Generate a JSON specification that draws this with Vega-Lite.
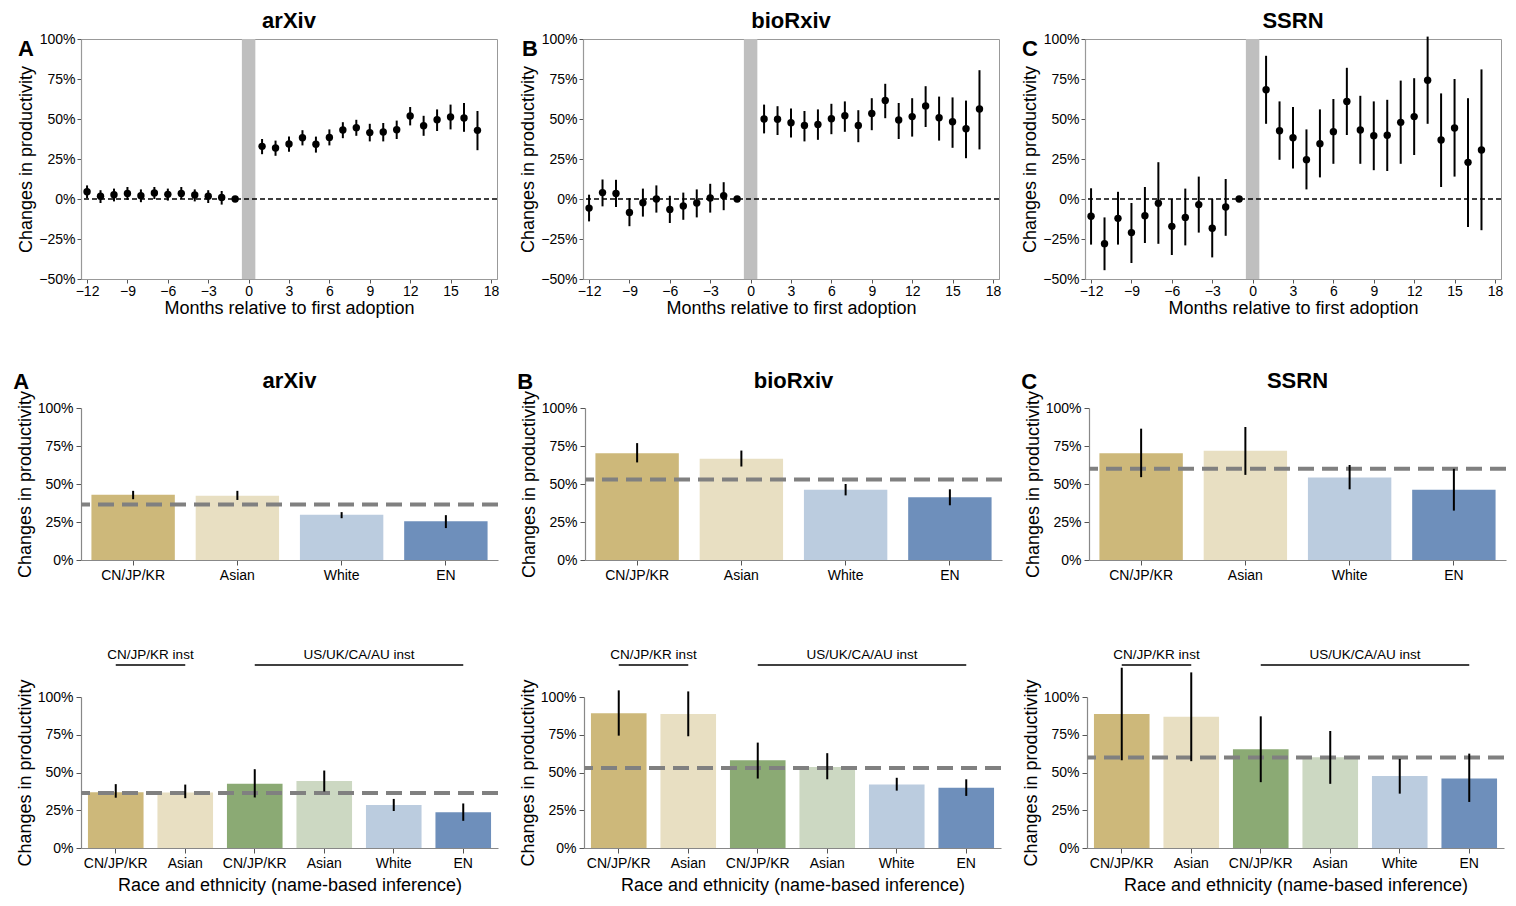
{
  "$schema": "https://vega.github.io/schema/vega-lite/v6.json",
  "padding": {"left": 13, "top": 9, "right": 5, "bottom": 5},
  "background": "white",
  "datasets": {
    "ev": [
      {"src":"arXiv","month":-12,"est":4.5,"lo":0.5,"hi":8.5},
      {"src":"arXiv","month":-11,"est":1.7,"lo":-2.5,"hi":5.5},
      {"src":"arXiv","month":-10,"est":2.7,"lo":-1.5,"hi":6.5},
      {"src":"arXiv","month":-9,"est":3.5,"lo":-0.5,"hi":7.5},
      {"src":"arXiv","month":-8,"est":2.1,"lo":-2,"hi":6},
      {"src":"arXiv","month":-7,"est":3.7,"lo":0,"hi":7.5},
      {"src":"arXiv","month":-6,"est":2.9,"lo":-1,"hi":6.5},
      {"src":"arXiv","month":-5,"est":3.5,"lo":0,"hi":7.5},
      {"src":"arXiv","month":-4,"est":2.5,"lo":-1.5,"hi":6},
      {"src":"arXiv","month":-3,"est":1.7,"lo":-2.5,"hi":5.5},
      {"src":"arXiv","month":-2,"est":1,"lo":-3.5,"hi":5},
      {"src":"arXiv","month":-1,"est":0,"lo":0,"hi":0},
      {"src":"arXiv","month":1,"est":32.9,"lo":28,"hi":37.5},
      {"src":"arXiv","month":2,"est":31.9,"lo":27,"hi":36.5},
      {"src":"arXiv","month":3,"est":34.4,"lo":29.5,"hi":39},
      {"src":"arXiv","month":4,"est":38.3,"lo":33.5,"hi":43},
      {"src":"arXiv","month":5,"est":34.2,"lo":29,"hi":39},
      {"src":"arXiv","month":6,"est":38.5,"lo":33.5,"hi":43.5},
      {"src":"arXiv","month":7,"est":43.1,"lo":38,"hi":48},
      {"src":"arXiv","month":8,"est":44.6,"lo":39.5,"hi":49.5},
      {"src":"arXiv","month":9,"est":41.5,"lo":36,"hi":47},
      {"src":"arXiv","month":10,"est":41.9,"lo":36,"hi":47.5},
      {"src":"arXiv","month":11,"est":43.3,"lo":37.5,"hi":49},
      {"src":"arXiv","month":12,"est":51.9,"lo":46,"hi":57.5},
      {"src":"arXiv","month":13,"est":45.8,"lo":39.5,"hi":52},
      {"src":"arXiv","month":14,"est":49.6,"lo":42.5,"hi":56},
      {"src":"arXiv","month":15,"est":51.3,"lo":43.5,"hi":59},
      {"src":"arXiv","month":16,"est":50.6,"lo":42,"hi":60},
      {"src":"arXiv","month":17,"est":42.9,"lo":30.5,"hi":55},
      {"src":"bioRxiv","month":-12,"est":-5.7,"lo":-14,"hi":2.7},
      {"src":"bioRxiv","month":-11,"est":4.0,"lo":-4.6,"hi":12.2},
      {"src":"bioRxiv","month":-10,"est":3.4,"lo":-5,"hi":12},
      {"src":"bioRxiv","month":-9,"est":-8.4,"lo":-17,"hi":0.5},
      {"src":"bioRxiv","month":-8,"est":-2.3,"lo":-11,"hi":6.5},
      {"src":"bioRxiv","month":-7,"est":0,"lo":-8.5,"hi":8.5},
      {"src":"bioRxiv","month":-6,"est":-6.5,"lo":-15,"hi":2},
      {"src":"bioRxiv","month":-5,"est":-4.4,"lo":-13,"hi":4},
      {"src":"bioRxiv","month":-4,"est":-2.5,"lo":-11.5,"hi":6},
      {"src":"bioRxiv","month":-3,"est":0.6,"lo":-8.5,"hi":9.5},
      {"src":"bioRxiv","month":-2,"est":2.1,"lo":-7,"hi":10.5},
      {"src":"bioRxiv","month":-1,"est":0,"lo":0,"hi":0},
      {"src":"bioRxiv","month":1,"est":50,"lo":41,"hi":59},
      {"src":"bioRxiv","month":2,"est":49.8,"lo":40,"hi":58},
      {"src":"bioRxiv","month":3,"est":47.7,"lo":38.5,"hi":56.5},
      {"src":"bioRxiv","month":4,"est":46,"lo":36,"hi":55},
      {"src":"bioRxiv","month":5,"est":46.6,"lo":37,"hi":56},
      {"src":"bioRxiv","month":6,"est":50.2,"lo":40.5,"hi":59.5},
      {"src":"bioRxiv","month":7,"est":52.1,"lo":42,"hi":61},
      {"src":"bioRxiv","month":8,"est":46,"lo":35.5,"hi":55.5},
      {"src":"bioRxiv","month":9,"est":53.4,"lo":43,"hi":63},
      {"src":"bioRxiv","month":10,"est":61.6,"lo":50.5,"hi":72},
      {"src":"bioRxiv","month":11,"est":49.4,"lo":37.5,"hi":60},
      {"src":"bioRxiv","month":12,"est":51.5,"lo":39,"hi":63},
      {"src":"bioRxiv","month":13,"est":58.2,"lo":45,"hi":70.5},
      {"src":"bioRxiv","month":14,"est":50.8,"lo":36.5,"hi":64},
      {"src":"bioRxiv","month":15,"est":48.3,"lo":32,"hi":63.5},
      {"src":"bioRxiv","month":16,"est":43.9,"lo":25.5,"hi":61.5},
      {"src":"bioRxiv","month":17,"est":56.3,"lo":31,"hi":80.5},
      {"src":"SSRN","month":-12,"est":-10.8,"lo":-28.5,"hi":6.7},
      {"src":"SSRN","month":-11,"est":-27.9,"lo":-44.5,"hi":-11.5},
      {"src":"SSRN","month":-10,"est":-12.1,"lo":-28.5,"hi":4.5},
      {"src":"SSRN","month":-9,"est":-21,"lo":-40,"hi":-2.5},
      {"src":"SSRN","month":-8,"est":-10.4,"lo":-27.5,"hi":7.5},
      {"src":"SSRN","month":-7,"est":-2.7,"lo":-28,"hi":23},
      {"src":"SSRN","month":-6,"est":-17.1,"lo":-35,"hi":0},
      {"src":"SSRN","month":-5,"est":-11.5,"lo":-29,"hi":6.5},
      {"src":"SSRN","month":-4,"est":-3.5,"lo":-21,"hi":14},
      {"src":"SSRN","month":-3,"est":-18.3,"lo":-36.5,"hi":0},
      {"src":"SSRN","month":-2,"est":-5,"lo":-23,"hi":12.5},
      {"src":"SSRN","month":-1,"est":0,"lo":0,"hi":0},
      {"src":"SSRN","month":1,"est":68.3,"lo":47,"hi":89.5},
      {"src":"SSRN","month":2,"est":42.7,"lo":24.5,"hi":61},
      {"src":"SSRN","month":3,"est":38.3,"lo":19,"hi":57.5},
      {"src":"SSRN","month":4,"est":24.6,"lo":6,"hi":43.5},
      {"src":"SSRN","month":5,"est":34.6,"lo":13.5,"hi":56},
      {"src":"SSRN","month":6,"est":42.1,"lo":22,"hi":62.5},
      {"src":"SSRN","month":7,"est":61,"lo":40,"hi":82},
      {"src":"SSRN","month":8,"est":43.1,"lo":22,"hi":64.5},
      {"src":"SSRN","month":9,"est":39.6,"lo":18,"hi":61},
      {"src":"SSRN","month":10,"est":39.8,"lo":17.5,"hi":62},
      {"src":"SSRN","month":11,"est":47.9,"lo":22,"hi":74},
      {"src":"SSRN","month":12,"est":51.5,"lo":27.5,"hi":75.5},
      {"src":"SSRN","month":13,"est":74.2,"lo":47,"hi":101.5},
      {"src":"SSRN","month":14,"est":36.9,"lo":7.5,"hi":66},
      {"src":"SSRN","month":15,"est":44.4,"lo":14,"hi":75},
      {"src":"SSRN","month":16,"est":22.9,"lo":-17.5,"hi":63},
      {"src":"SSRN","month":17,"est":30.6,"lo":-19.5,"hi":81}
    ],
    "race": [
      {"src":"arXiv","grp":"CN/JP/KR","est":42.9,"lo":40,"hi":45.5},
      {"src":"arXiv","grp":"Asian","est":42.2,"lo":39.5,"hi":45.5},
      {"src":"arXiv","grp":"White","est":29.7,"lo":27.5,"hi":31.5},
      {"src":"arXiv","grp":"EN","est":25.5,"lo":21,"hi":29.5},
      {"src":"bioRxiv","grp":"CN/JP/KR","est":70.3,"lo":64.2,"hi":76.9},
      {"src":"bioRxiv","grp":"Asian","est":66.6,"lo":61.5,"hi":72},
      {"src":"bioRxiv","grp":"White","est":46.2,"lo":42.5,"hi":50},
      {"src":"bioRxiv","grp":"EN","est":41.3,"lo":36,"hi":46.5},
      {"src":"SSRN","grp":"CN/JP/KR","est":70.3,"lo":54.5,"hi":86.4},
      {"src":"SSRN","grp":"Asian","est":71.9,"lo":56,"hi":87.5},
      {"src":"SSRN","grp":"White","est":54.3,"lo":46.5,"hi":62.5},
      {"src":"SSRN","grp":"EN","est":46.2,"lo":32.5,"hi":60}
    ],
    "inst": [
      {"src":"arXiv","key":"i1|CN/JP/KR","est":37,"lo":33.3,"hi":42.3},
      {"src":"arXiv","key":"i1|Asian","est":36.8,"lo":33,"hi":42},
      {"src":"arXiv","key":"i2|CN/JP/KR","est":42.5,"lo":33.5,"hi":52.2},
      {"src":"arXiv","key":"i2|Asian","est":44.3,"lo":37.4,"hi":51.3},
      {"src":"arXiv","key":"i2|White","est":28.4,"lo":24.5,"hi":32.5},
      {"src":"arXiv","key":"i2|EN","est":23.6,"lo":18,"hi":29.5},
      {"src":"bioRxiv","key":"i1|CN/JP/KR","est":89.2,"lo":74.4,"hi":104.4},
      {"src":"bioRxiv","key":"i1|Asian","est":88.8,"lo":74,"hi":103.7},
      {"src":"bioRxiv","key":"i2|CN/JP/KR","est":58.1,"lo":46,"hi":69.8},
      {"src":"bioRxiv","key":"i2|Asian","est":53.7,"lo":45.5,"hi":62.8},
      {"src":"bioRxiv","key":"i2|White","est":42.1,"lo":38,"hi":46.5},
      {"src":"bioRxiv","key":"i2|EN","est":39.9,"lo":34.5,"hi":45.5},
      {"src":"SSRN","key":"i1|CN/JP/KR","est":88.8,"lo":58.1,"hi":119.4},
      {"src":"SSRN","key":"i1|Asian","est":87,"lo":57.5,"hi":116.3},
      {"src":"SSRN","key":"i2|CN/JP/KR","est":65.4,"lo":43.6,"hi":87.2},
      {"src":"SSRN","key":"i2|Asian","est":60.1,"lo":42.5,"hi":77.5},
      {"src":"SSRN","key":"i2|White","est":47.6,"lo":36,"hi":59},
      {"src":"SSRN","key":"i2|EN","est":46,"lo":30.5,"hi":62.5}
    ],
    "avg": [
      {"src":"arXiv","v":36.5},
      {"src":"bioRxiv","v":53},
      {"src":"SSRN","v":60}
    ],
    "grp": [
      {"label":"CN/JP/KR inst","from":"i1|CN/JP/KR","to":"i1|Asian","anchor":"i1|Asian"},
      {"label":"US/UK/CA/AU inst","from":"i2|CN/JP/KR","to":"i2|EN","anchor":"i2|White"}
    ]
  },
  "spacing": 52,
  "vconcat": [
    {
      "spacing": 19,
      "hconcat": [
        {
          "width": 416, "height": 240,
          "view": {"stroke": "#999"},
          "title": {"text": "arXiv", "offset": -1},
          "layer": [
            {"data": {"values": [{}]}, "mark": {"type": "rect", "color": "#BFBFBF"},
             "encoding": {"x": {"datum": -0.5, "type": "quantitative"}, "x2": {"datum": 0.5}}},
            {"data": {"values": [{}]}, "mark": {"type": "rule", "color": "black", "strokeWidth": 1.3, "strokeDash": [5, 3]},
             "encoding": {"y": {"datum": 0, "type": "quantitative"}}},
            {"data": {"name": "ev"}, "transform": [{"filter": "datum.src == 'arXiv'"}],
             "mark": {"type": "rule", "color": "black", "strokeWidth": 2},
             "encoding": {
               "x": {"field": "month", "type": "quantitative", "scale": {"domain": [-12.45, 18.45], "nice": false, "zero": false},
                     "axis": {"title": "Months relative to first adoption", "values": [-12,-9,-6,-3,0,3,6,9,12,15,18], "tickCount": 40, "domainColor": "#999", "tickSize": 4, "labelPadding": 1, "titlePadding": 1}},
               "y": {"field": "lo", "type": "quantitative", "scale": {"domain": [-50, 100], "nice": false},
                     "axis": {"title": "Changes in productivity", "values": [-50,-25,0,25,50,75,100], "tickCount": 40, "labelExpr": "format(datum.value, 'd') + '%'", "domainColor": "#999", "tickSize": 4, "labelPadding": 2, "titlePadding": 3}},
               "y2": {"field": "hi"}
             }},
            {"data": {"name": "ev"}, "transform": [{"filter": "datum.src == 'arXiv'"}],
             "mark": {"type": "point", "filled": true, "color": "black", "size": 55, "opacity": 1},
             "encoding": {"x": {"field": "month", "type": "quantitative"}, "y": {"field": "est", "type": "quantitative"}}},
            {"data": {"values": [{"t": "A"}]}, "mark": {"type": "text", "fontSize": 22, "fontWeight": "bold", "align": "center", "baseline": "top", "dx": -55},
             "encoding": {"x": {"datum": -12.45, "type": "quantitative"}, "y": {"datum": 100, "type": "quantitative"}, "text": {"field": "t"}}}
          ]
        },
        {
          "width": 416, "height": 240,
          "view": {"stroke": "#999"},
          "title": {"text": "bioRxiv", "offset": -1},
          "layer": [
            {"data": {"values": [{}]}, "mark": {"type": "rect", "color": "#BFBFBF"},
             "encoding": {"x": {"datum": -0.5, "type": "quantitative"}, "x2": {"datum": 0.5}}},
            {"data": {"values": [{}]}, "mark": {"type": "rule", "color": "black", "strokeWidth": 1.3, "strokeDash": [5, 3]},
             "encoding": {"y": {"datum": 0, "type": "quantitative"}}},
            {"data": {"name": "ev"}, "transform": [{"filter": "datum.src == 'bioRxiv'"}],
             "mark": {"type": "rule", "color": "black", "strokeWidth": 2},
             "encoding": {
               "x": {"field": "month", "type": "quantitative", "scale": {"domain": [-12.45, 18.45], "nice": false, "zero": false},
                     "axis": {"title": "Months relative to first adoption", "values": [-12,-9,-6,-3,0,3,6,9,12,15,18], "tickCount": 40, "domainColor": "#999", "tickSize": 4, "labelPadding": 1, "titlePadding": 1}},
               "y": {"field": "lo", "type": "quantitative", "scale": {"domain": [-50, 100], "nice": false},
                     "axis": {"title": "Changes in productivity", "values": [-50,-25,0,25,50,75,100], "tickCount": 40, "labelExpr": "format(datum.value, 'd') + '%'", "domainColor": "#999", "tickSize": 4, "labelPadding": 2, "titlePadding": 3}},
               "y2": {"field": "hi"}
             }},
            {"data": {"name": "ev"}, "transform": [{"filter": "datum.src == 'bioRxiv'"}],
             "mark": {"type": "point", "filled": true, "color": "black", "size": 55, "opacity": 1},
             "encoding": {"x": {"field": "month", "type": "quantitative"}, "y": {"field": "est", "type": "quantitative"}}},
            {"data": {"values": [{"t": "B"}]}, "mark": {"type": "text", "fontSize": 22, "fontWeight": "bold", "align": "center", "baseline": "top", "dx": -53},
             "encoding": {"x": {"datum": -12.45, "type": "quantitative"}, "y": {"datum": 100, "type": "quantitative"}, "text": {"field": "t"}}}
          ]
        },
        {
          "width": 416, "height": 240,
          "view": {"stroke": "#999"},
          "title": {"text": "SSRN", "offset": -1},
          "layer": [
            {"data": {"values": [{}]}, "mark": {"type": "rect", "color": "#BFBFBF"},
             "encoding": {"x": {"datum": -0.5, "type": "quantitative"}, "x2": {"datum": 0.5}}},
            {"data": {"values": [{}]}, "mark": {"type": "rule", "color": "black", "strokeWidth": 1.3, "strokeDash": [5, 3]},
             "encoding": {"y": {"datum": 0, "type": "quantitative"}}},
            {"data": {"name": "ev"}, "transform": [{"filter": "datum.src == 'SSRN'"}],
             "mark": {"type": "rule", "color": "black", "strokeWidth": 2},
             "encoding": {
               "x": {"field": "month", "type": "quantitative", "scale": {"domain": [-12.45, 18.45], "nice": false, "zero": false},
                     "axis": {"title": "Months relative to first adoption", "values": [-12,-9,-6,-3,0,3,6,9,12,15,18], "tickCount": 40, "domainColor": "#999", "tickSize": 4, "labelPadding": 1, "titlePadding": 1}},
               "y": {"field": "lo", "type": "quantitative", "scale": {"domain": [-50, 100], "nice": false},
                     "axis": {"title": "Changes in productivity", "values": [-50,-25,0,25,50,75,100], "tickCount": 40, "labelExpr": "format(datum.value, 'd') + '%'", "domainColor": "#999", "tickSize": 4, "labelPadding": 2, "titlePadding": 3}},
               "y2": {"field": "hi"}
             }},
            {"data": {"name": "ev"}, "transform": [{"filter": "datum.src == 'SSRN'"}],
             "mark": {"type": "point", "filled": true, "color": "black", "size": 55, "opacity": 1},
             "encoding": {"x": {"field": "month", "type": "quantitative"}, "y": {"field": "est", "type": "quantitative"}}},
            {"data": {"values": [{"t": "C"}]}, "mark": {"type": "text", "fontSize": 22, "fontWeight": "bold", "align": "center", "baseline": "top", "dx": -55},
             "encoding": {"x": {"datum": -12.45, "type": "quantitative"}, "y": {"datum": 100, "type": "quantitative"}, "text": {"field": "t"}}}
          ]
        }
      ]
    },
    {
      "spacing": 66,
      "resolve": {"scale": {"color": "independent"}},
      "vconcat": [
        {
          "spacing": 17,
          "hconcat": [
            {
              "width": 417, "height": 152,
              "title": {"text": "arXiv", "offset": -22.5},
              "layer": [
                {"data": {"name": "race"}, "transform": [{"filter": "datum.src == 'arXiv'"}],
                 "mark": {"type": "bar"},
                 "encoding": {
                   "x": {"field": "grp", "type": "nominal", "sort": ["CN/JP/KR","Asian","White","EN"],
                         "scale": {"domain": ["CN/JP/KR","Asian","White","EN"], "paddingInner": 0.2, "paddingOuter": 0.1},
                         "axis": {"title": null, "labelAngle": 0, "labelPadding": 3}},
                   "y": {"field": "est", "type": "quantitative", "scale": {"domain": [0, 100], "nice": false},
                         "axis": {"title": "Changes in productivity", "values": [0,25,50,75,100], "tickCount": 40, "labelExpr": "format(datum.value, 'd') + '%'", "labelPadding": 3, "titlePadding": 3}},
                   "color": {"field": "grp", "type": "nominal", "scale": {"domain": ["CN/JP/KR","Asian","White","EN"], "range": ["#CDB87A","#E8DFC2","#BBCCDF","#6E8FBB"]}, "legend": null}
                 }},
                {"data": {"name": "avg"}, "transform": [{"filter": "datum.src == 'arXiv'"}],
                 "mark": {"type": "rule", "color": "#808080", "strokeWidth": 4, "strokeDash": [16, 8]},
                 "encoding": {"y": {"field": "v", "type": "quantitative"}}},
                {"data": {"name": "race"}, "transform": [{"filter": "datum.src == 'arXiv'"}],
                 "mark": {"type": "rule", "color": "black", "strokeWidth": 2},
                 "encoding": {"x": {"field": "grp", "type": "nominal"}, "y": {"field": "lo", "type": "quantitative"}, "y2": {"field": "hi"}}},
                {"data": {"values": [{"t": "A"}]}, "mark": {"type": "text", "fontSize": 22, "fontWeight": "bold", "align": "center", "baseline": "alphabetic", "dx": -112, "dy": -19.5},
                 "encoding": {"x": {"datum": "CN/JP/KR", "type": "nominal"}, "y": {"datum": 100, "type": "quantitative"}, "text": {"field": "t"}}}
              ]
            },
            {
              "width": 417, "height": 152,
              "title": {"text": "bioRxiv", "offset": -22.5},
              "layer": [
                {"data": {"name": "race"}, "transform": [{"filter": "datum.src == 'bioRxiv'"}],
                 "mark": {"type": "bar"},
                 "encoding": {
                   "x": {"field": "grp", "type": "nominal", "sort": ["CN/JP/KR","Asian","White","EN"],
                         "scale": {"domain": ["CN/JP/KR","Asian","White","EN"], "paddingInner": 0.2, "paddingOuter": 0.1},
                         "axis": {"title": null, "labelAngle": 0, "labelPadding": 3}},
                   "y": {"field": "est", "type": "quantitative", "scale": {"domain": [0, 100], "nice": false},
                         "axis": {"title": "Changes in productivity", "values": [0,25,50,75,100], "tickCount": 40, "labelExpr": "format(datum.value, 'd') + '%'", "labelPadding": 3, "titlePadding": 3}},
                   "color": {"field": "grp", "type": "nominal", "scale": {"domain": ["CN/JP/KR","Asian","White","EN"], "range": ["#CDB87A","#E8DFC2","#BBCCDF","#6E8FBB"]}, "legend": null}
                 }},
                {"data": {"name": "avg"}, "transform": [{"filter": "datum.src == 'bioRxiv'"}],
                 "mark": {"type": "rule", "color": "#808080", "strokeWidth": 4, "strokeDash": [16, 8]},
                 "encoding": {"y": {"field": "v", "type": "quantitative"}}},
                {"data": {"name": "race"}, "transform": [{"filter": "datum.src == 'bioRxiv'"}],
                 "mark": {"type": "rule", "color": "black", "strokeWidth": 2},
                 "encoding": {"x": {"field": "grp", "type": "nominal"}, "y": {"field": "lo", "type": "quantitative"}, "y2": {"field": "hi"}}},
                {"data": {"values": [{"t": "B"}]}, "mark": {"type": "text", "fontSize": 22, "fontWeight": "bold", "align": "center", "baseline": "alphabetic", "dx": -112, "dy": -19.5},
                 "encoding": {"x": {"datum": "CN/JP/KR", "type": "nominal"}, "y": {"datum": 100, "type": "quantitative"}, "text": {"field": "t"}}}
              ]
            },
            {
              "width": 417, "height": 152,
              "title": {"text": "SSRN", "offset": -22.5},
              "layer": [
                {"data": {"name": "race"}, "transform": [{"filter": "datum.src == 'SSRN'"}],
                 "mark": {"type": "bar"},
                 "encoding": {
                   "x": {"field": "grp", "type": "nominal", "sort": ["CN/JP/KR","Asian","White","EN"],
                         "scale": {"domain": ["CN/JP/KR","Asian","White","EN"], "paddingInner": 0.2, "paddingOuter": 0.1},
                         "axis": {"title": null, "labelAngle": 0, "labelPadding": 3}},
                   "y": {"field": "est", "type": "quantitative", "scale": {"domain": [0, 100], "nice": false},
                         "axis": {"title": "Changes in productivity", "values": [0,25,50,75,100], "tickCount": 40, "labelExpr": "format(datum.value, 'd') + '%'", "labelPadding": 3, "titlePadding": 3}},
                   "color": {"field": "grp", "type": "nominal", "scale": {"domain": ["CN/JP/KR","Asian","White","EN"], "range": ["#CDB87A","#E8DFC2","#BBCCDF","#6E8FBB"]}, "legend": null}
                 }},
                {"data": {"name": "avg"}, "transform": [{"filter": "datum.src == 'SSRN'"}],
                 "mark": {"type": "rule", "color": "#808080", "strokeWidth": 4, "strokeDash": [16, 8]},
                 "encoding": {"y": {"field": "v", "type": "quantitative"}}},
                {"data": {"name": "race"}, "transform": [{"filter": "datum.src == 'SSRN'"}],
                 "mark": {"type": "rule", "color": "black", "strokeWidth": 2},
                 "encoding": {"x": {"field": "grp", "type": "nominal"}, "y": {"field": "lo", "type": "quantitative"}, "y2": {"field": "hi"}}},
                {"data": {"values": [{"t": "C"}]}, "mark": {"type": "text", "fontSize": 22, "fontWeight": "bold", "align": "center", "baseline": "alphabetic", "dx": -112, "dy": -19.5},
                 "encoding": {"x": {"datum": "CN/JP/KR", "type": "nominal"}, "y": {"datum": 100, "type": "quantitative"}, "text": {"field": "t"}}}
              ]
            }
          ]
        },
        {
          "spacing": 19,
          "hconcat": [
            {
              "width": 417, "height": 151,
              "layer": [
                {"data": {"name": "inst"}, "transform": [{"filter": "datum.src == 'arXiv'"}],
                 "mark": {"type": "bar"},
                 "encoding": {
                   "x": {"field": "key", "type": "nominal",
                         "scale": {"domain": ["i1|CN/JP/KR","i1|Asian","i2|CN/JP/KR","i2|Asian","i2|White","i2|EN"], "paddingInner": 0.2, "paddingOuter": 0.1},
                         "axis": {"title": "Race and ethnicity (name-based inference)", "labelAngle": 0, "labelPadding": 3, "titlePadding": 6, "labelExpr": "split(datum.label, '|')[1]"}},
                   "y": {"field": "est", "type": "quantitative", "scale": {"domain": [0, 100], "nice": false},
                         "axis": {"title": "Changes in productivity", "values": [0,25,50,75,100], "tickCount": 40, "labelExpr": "format(datum.value, 'd') + '%'", "labelPadding": 3, "titlePadding": 3}},
                   "color": {"field": "key", "type": "nominal", "scale": {"domain": ["i1|CN/JP/KR","i1|Asian","i2|CN/JP/KR","i2|Asian","i2|White","i2|EN"], "range": ["#CDB87A","#E8DFC2","#8BAA74","#CCD8C2","#BBCCDF","#6E8FBB"]}, "legend": null}
                 }},
                {"data": {"name": "avg"}, "transform": [{"filter": "datum.src == 'arXiv'"}],
                 "mark": {"type": "rule", "color": "#808080", "strokeWidth": 4, "strokeDash": [16, 8]},
                 "encoding": {"y": {"field": "v", "type": "quantitative"}}},
                {"data": {"name": "inst"}, "transform": [{"filter": "datum.src == 'arXiv'"}],
                 "mark": {"type": "rule", "color": "black", "strokeWidth": 2},
                 "encoding": {"x": {"field": "key", "type": "nominal"}, "y": {"field": "lo", "type": "quantitative"}, "y2": {"field": "hi"}}},
                {"data": {"name": "grp"},
                 "mark": {"type": "rule", "color": "black", "strokeWidth": 1.5},
                 "encoding": {"x": {"field": "from", "type": "nominal", "bandPosition": 0.5}, "x2": {"field": "to"}, "y": {"datum": 121.2, "type": "quantitative"}}},
                {"data": {"name": "grp"},
                 "mark": {"type": "text", "fontSize": 13.5, "baseline": "middle", "align": "center"},
                 "encoding": {"x": {"field": "anchor", "type": "nominal", "bandPosition": -0.125}, "y": {"datum": 127.8, "type": "quantitative"}, "text": {"field": "label"}}}
              ]
            },
            {
              "width": 417, "height": 151,
              "layer": [
                {"data": {"name": "inst"}, "transform": [{"filter": "datum.src == 'bioRxiv'"}],
                 "mark": {"type": "bar"},
                 "encoding": {
                   "x": {"field": "key", "type": "nominal",
                         "scale": {"domain": ["i1|CN/JP/KR","i1|Asian","i2|CN/JP/KR","i2|Asian","i2|White","i2|EN"], "paddingInner": 0.2, "paddingOuter": 0.1},
                         "axis": {"title": "Race and ethnicity (name-based inference)", "labelAngle": 0, "labelPadding": 3, "titlePadding": 6, "labelExpr": "split(datum.label, '|')[1]"}},
                   "y": {"field": "est", "type": "quantitative", "scale": {"domain": [0, 100], "nice": false},
                         "axis": {"title": "Changes in productivity", "values": [0,25,50,75,100], "tickCount": 40, "labelExpr": "format(datum.value, 'd') + '%'", "labelPadding": 3, "titlePadding": 3}},
                   "color": {"field": "key", "type": "nominal", "scale": {"domain": ["i1|CN/JP/KR","i1|Asian","i2|CN/JP/KR","i2|Asian","i2|White","i2|EN"], "range": ["#CDB87A","#E8DFC2","#8BAA74","#CCD8C2","#BBCCDF","#6E8FBB"]}, "legend": null}
                 }},
                {"data": {"name": "avg"}, "transform": [{"filter": "datum.src == 'bioRxiv'"}],
                 "mark": {"type": "rule", "color": "#808080", "strokeWidth": 4, "strokeDash": [16, 8]},
                 "encoding": {"y": {"field": "v", "type": "quantitative"}}},
                {"data": {"name": "inst"}, "transform": [{"filter": "datum.src == 'bioRxiv'"}],
                 "mark": {"type": "rule", "color": "black", "strokeWidth": 2},
                 "encoding": {"x": {"field": "key", "type": "nominal"}, "y": {"field": "lo", "type": "quantitative"}, "y2": {"field": "hi"}}},
                {"data": {"name": "grp"},
                 "mark": {"type": "rule", "color": "black", "strokeWidth": 1.5},
                 "encoding": {"x": {"field": "from", "type": "nominal", "bandPosition": 0.5}, "x2": {"field": "to"}, "y": {"datum": 121.2, "type": "quantitative"}}},
                {"data": {"name": "grp"},
                 "mark": {"type": "text", "fontSize": 13.5, "baseline": "middle", "align": "center"},
                 "encoding": {"x": {"field": "anchor", "type": "nominal", "bandPosition": -0.125}, "y": {"datum": 127.8, "type": "quantitative"}, "text": {"field": "label"}}}
              ]
            },
            {
              "width": 417, "height": 151,
              "layer": [
                {"data": {"name": "inst"}, "transform": [{"filter": "datum.src == 'SSRN'"}],
                 "mark": {"type": "bar"},
                 "encoding": {
                   "x": {"field": "key", "type": "nominal",
                         "scale": {"domain": ["i1|CN/JP/KR","i1|Asian","i2|CN/JP/KR","i2|Asian","i2|White","i2|EN"], "paddingInner": 0.2, "paddingOuter": 0.1},
                         "axis": {"title": "Race and ethnicity (name-based inference)", "labelAngle": 0, "labelPadding": 3, "titlePadding": 6, "labelExpr": "split(datum.label, '|')[1]"}},
                   "y": {"field": "est", "type": "quantitative", "scale": {"domain": [0, 100], "nice": false},
                         "axis": {"title": "Changes in productivity", "values": [0,25,50,75,100], "tickCount": 40, "labelExpr": "format(datum.value, 'd') + '%'", "labelPadding": 3, "titlePadding": 3}},
                   "color": {"field": "key", "type": "nominal", "scale": {"domain": ["i1|CN/JP/KR","i1|Asian","i2|CN/JP/KR","i2|Asian","i2|White","i2|EN"], "range": ["#CDB87A","#E8DFC2","#8BAA74","#CCD8C2","#BBCCDF","#6E8FBB"]}, "legend": null}
                 }},
                {"data": {"name": "avg"}, "transform": [{"filter": "datum.src == 'SSRN'"}],
                 "mark": {"type": "rule", "color": "#808080", "strokeWidth": 4, "strokeDash": [16, 8]},
                 "encoding": {"y": {"field": "v", "type": "quantitative"}}},
                {"data": {"name": "inst"}, "transform": [{"filter": "datum.src == 'SSRN'"}],
                 "mark": {"type": "rule", "color": "black", "strokeWidth": 2},
                 "encoding": {"x": {"field": "key", "type": "nominal"}, "y": {"field": "lo", "type": "quantitative"}, "y2": {"field": "hi"}}},
                {"data": {"name": "grp"},
                 "mark": {"type": "rule", "color": "black", "strokeWidth": 1.5},
                 "encoding": {"x": {"field": "from", "type": "nominal", "bandPosition": 0.5}, "x2": {"field": "to"}, "y": {"datum": 121.2, "type": "quantitative"}}},
                {"data": {"name": "grp"},
                 "mark": {"type": "text", "fontSize": 13.5, "baseline": "middle", "align": "center"},
                 "encoding": {"x": {"field": "anchor", "type": "nominal", "bandPosition": -0.125}, "y": {"datum": 127.8, "type": "quantitative"}, "text": {"field": "label"}}}
              ]
            }
          ]
        }
      ]
    }
  ],
  "config": {
    "font": "Liberation Sans",
    "view": {"stroke": null},
    "axis": {"labelFontSize": 14, "titleFontSize": 18, "titleFontWeight": "normal", "labelColor": "black", "titleColor": "black",
             "domainColor": "#888", "domainWidth": 1.2, "tickColor": "#555", "tickSize": 5, "grid": false, "labelOverlap": false},
    "title": {"fontSize": 22, "fontWeight": "bold", "frame": "group", "anchor": "middle", "color": "black"}
  }
}
